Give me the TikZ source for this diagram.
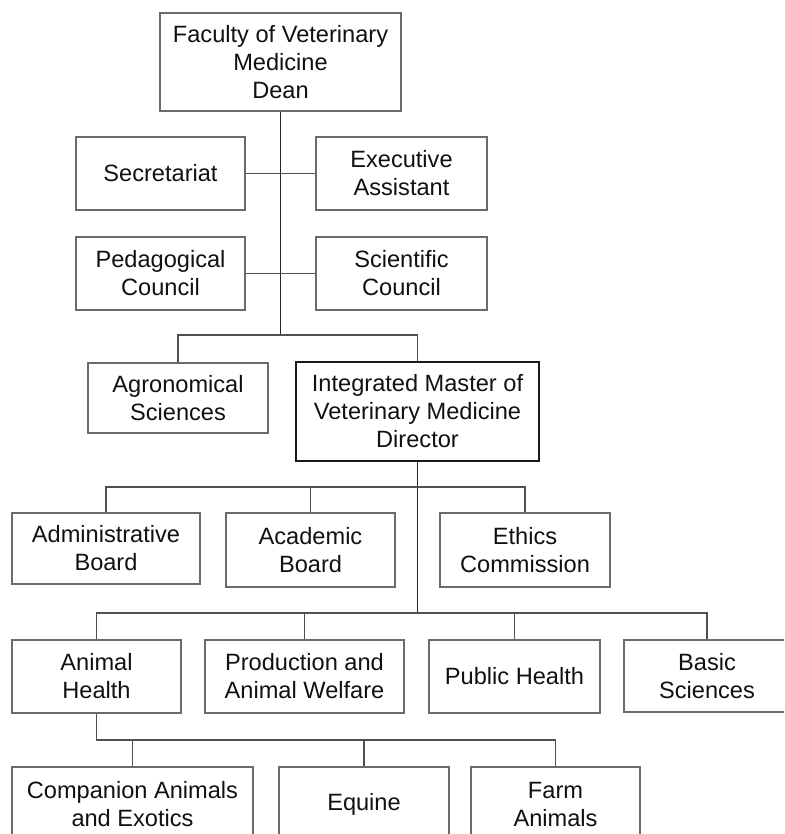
\documentclass[tikz,border=0pt]{standalone}
\usepackage{fontspec}
\setmainfont{Liberation Sans}
\definecolor{boxline}{HTML}{6A6A6A}
\definecolor{conline}{HTML}{505050}
\definecolor{txt}{HTML}{111111}
\begin{document}
\begin{tikzpicture}[x=1pt,y=-1pt,
  box/.style={draw=boxline, line width=1.1pt, rectangle, inner sep=0pt, align=center,
    text=txt, font=\fontsize{23.6}{28}\selectfont},
  mainbox/.style={box, draw=black!90, line width=1.7pt},
  con/.style={draw=conline, line width=1.1pt},
  spine/.style={draw=black!85, line width=1.6pt}]
\path[use as bounding box] (0,0) rectangle (784,834);
\fill[white] (0,0) rectangle (784,834);
\clip (0,0) rectangle (784,834);

\node[box, minimum width=241pt, minimum height=98pt] (dean) at (280.5,62) {Faculty of Veterinary\\Medicine\\Dean};
\node[box, minimum width=169pt, minimum height=73pt] (sec) at (160.5,173.5) {Secretariat};
\node[box, minimum width=171pt, minimum height=73pt] (exe) at (401.5,173.5) {Executive\\Assistant};
\node[box, minimum width=169pt, minimum height=73pt] (ped) at (160.5,273.5) {Pedagogical\\Council};
\node[box, minimum width=171pt, minimum height=73pt] (sci) at (401.5,273.5) {Scientific\\Council};
\node[box, minimum width=180pt, minimum height=70pt] (agr) at (178,398) {Agronomical\\Sciences};
\node[mainbox, minimum width=243pt, minimum height=99pt] (imv) at (417.5,411.5) {Integrated Master of\\Veterinary Medicine\\Director};
\node[box, minimum width=188pt, minimum height=71pt] (adm) at (106,548.5) {Administrative\\Board};
\node[box, minimum width=169pt, minimum height=74pt] (aca) at (310.5,550) {Academic\\Board};
\node[box, minimum width=170pt, minimum height=74pt] (eth) at (525,550) {Ethics\\Commission};
\node[box, minimum width=169pt, minimum height=73pt] (ah) at (96.5,676.5) {Animal\\Health};
\node[box, minimum width=199pt, minimum height=73pt] (pro) at (304.5,676.5) {Production and\\Animal Welfare};
\node[box, minimum width=171pt, minimum height=73pt] (pub) at (514.5,676.5) {Public Health};
\node[box, minimum width=166pt, minimum height=72pt] (bas) at (707,676) {Basic\\Sciences};
\node[box, minimum width=241pt, minimum height=74pt] (com) at (132.5,804) {Companion Animals\\and Exotics};
\node[box, minimum width=170pt, minimum height=74pt] (equ) at (364,804) {Equine};
\node[box, minimum width=169pt, minimum height=74pt] (farm) at (555.5,804) {Farm\\Animals};

\coordinate (j1) at (280.5,335);
\coordinate (j2) at (417.5,487);
\coordinate (j3) at (417.5,613);
\coordinate (j4) at (96.5,740);

% dean level
\draw[spine] (dean.south) -- (j1);
\draw[con] (sec) -- (exe);
\draw[con] (ped) -- (sci);
\draw[con] (agr.north) |- (j1) -| (imv.north);

% director level
\draw[spine] (imv.south) -- (j2) -- (j3);
\draw[con] (adm.north) |- (j2) -| (eth.north);
\draw[con] (aca.north) -- (aca.north |- j2);

% departments
\draw[con] (ah.north) |- (j3) -| (bas.north);
\draw[con] (pro.north) -- (pro.north |- j3);
\draw[con] (pub.north) -- (pub.north |- j3);

% animal health
\draw[con] (ah.south) -- (j4) -| (farm.north);
\draw[con] (com.north) -- (com.north |- j4);
\draw[con] (equ.north) -- (equ.north |- j4);
\end{tikzpicture}
\end{document}
